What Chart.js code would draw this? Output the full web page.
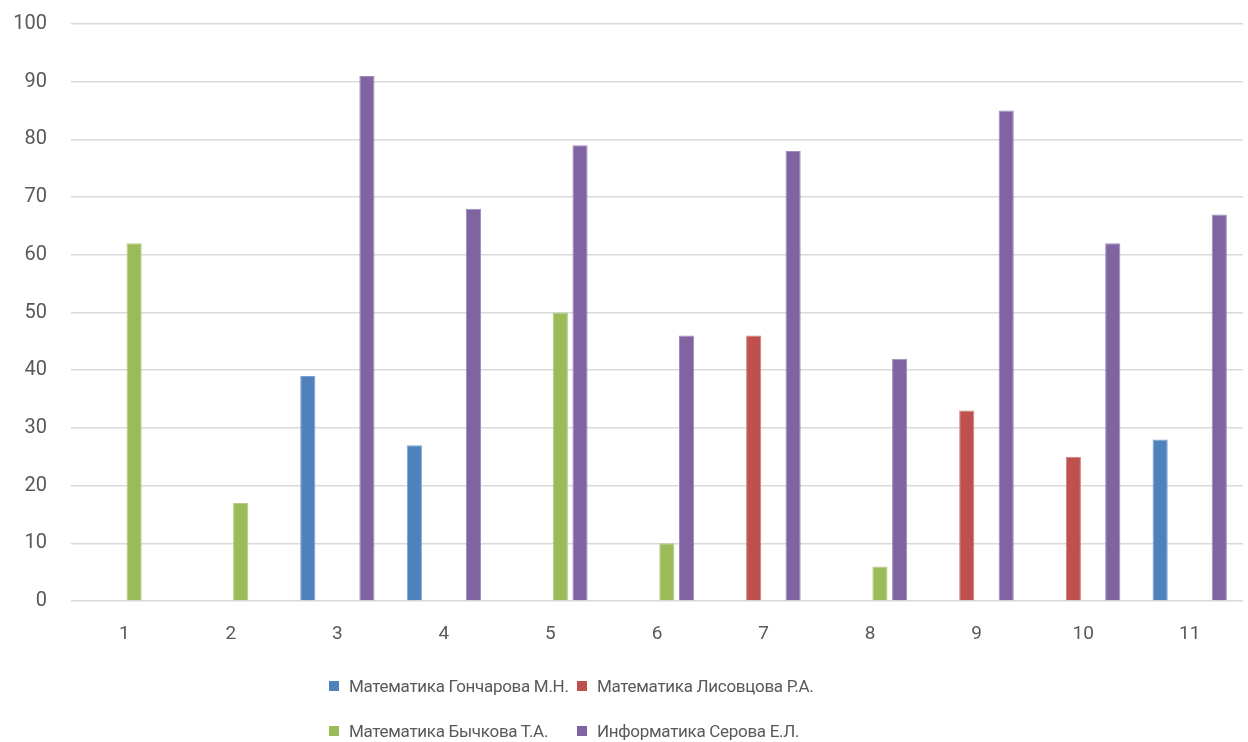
<!DOCTYPE html>
<html>
<head>
<meta charset="utf-8">
<script src="https://cdn.jsdelivr.net/npm/chart.js@4.4.1/dist/chart.umd.min.js"></script>
<style>
  html,body{margin:0;padding:0;background:#fff;overflow:hidden;}
  #wrap{position:relative;width:1248px;height:742px;overflow:hidden;}
  #chart{position:absolute;left:0;top:-12px;}
  #legend{position:absolute;left:329px;top:675px;display:grid;grid-template-columns:248px auto;row-gap:24px;
    font-family:Roboto,sans-serif;font-size:17px;letter-spacing:-0.3px;color:#595959;}
  #legend .item{display:flex;align-items:center;height:21px;white-space:nowrap;}
  #legend .box{width:10px;height:10px;margin-right:10px;flex:none;}
</style>
</head>
<body>
<div id="wrap">
  <canvas id="chart" width="1248" height="754"></canvas>
  <div id="legend"></div>
</div>
<script>
const categories = ['1','2','3','4','5','6','7','8','9','10','11'];

const goncharova = [null,null,39,27,null,null,null,null,null,null,28];
const lisovtsova = [null,null,null,null,null,null,46,null,33,25,null];
const bychkova   = [62,17,null,null,50,10,null,6,null,null,null];
const serova     = [null,null,91,68,79,46,78,42,85,62,67];

const seriesNames = ['Математика Гончарова М.Н.','Математика Лисовцова Р.А.','Математика Бычкова Т.А.','Информатика Серова Е.Л.'];
const seriesColors = ['#4F81BD','#C0504D','#9BBB59','#8064A2'];
const borderColors = ['#7DA0CF','#CE7F7D','#B3CC84','#A08BBB'];

const yTicks = {min:0, max:100, step:10};

const FONT = 'Roboto, sans-serif';
const TEXT = '#595959';

const datasets = [goncharova, lisovtsova, bychkova, serova].map((d,i)=>({
  label: seriesNames[i],
  data: d,
  backgroundColor: seriesColors[i],
  borderColor: borderColors[i],
  borderWidth: 1,
  categoryPercentage: 0.74,
  barPercentage: 0.77
}));

// y tick padding also pads the top of the chart area (~35px), so the canvas is shifted up 12px
new Chart(document.getElementById('chart'), {
  type: 'bar',
  data: {labels: categories, datasets},
  options: {
    responsive: false,
    animation: false,
    layout: {padding: {left: 0, right: 5, top: 0, bottom: 91}},
    plugins: {legend: {display: false}, tooltip: {enabled: false}},
    scales: {
      x: {
        grid: {display: false, drawTicks: false},
        border: {display: false},
        ticks: {color: TEXT, font: {family: FONT, size: 19}, padding: 22},
        afterFit: s => { s.height = 50; }
      },
      y: {
        min: yTicks.min, max: yTicks.max,
        grid: {color: '#D9D9D9', lineWidth: 1.5, drawTicks: false},
        border: {display: false},
        ticks: {stepSize: yTicks.step, color: TEXT, font: {family: FONT, size: 20}, padding: 24},
        afterFit: s => { s.width = 71; }
      }
    }
  }
});

const legendEl = document.getElementById('legend');
seriesNames.forEach((name,i)=>{
  const div = document.createElement('div');
  div.className = 'item';
  div.innerHTML = `<span class="box" style="background:${seriesColors[i]}"></span><span>${name}</span>`;
  legendEl.appendChild(div);
});
</script>
</body>
</html>
